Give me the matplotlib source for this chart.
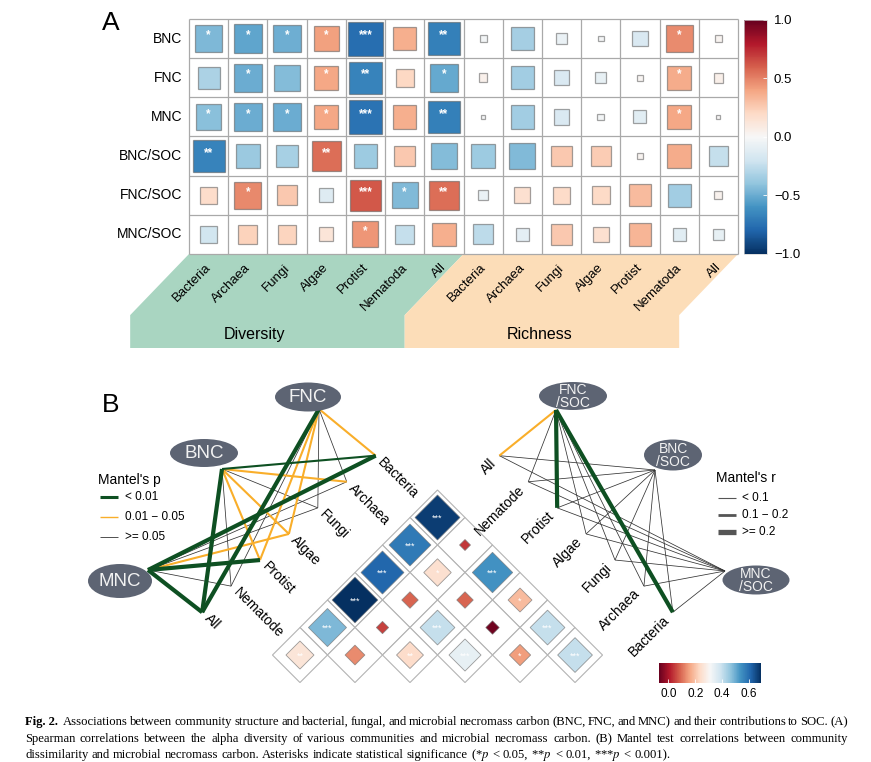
import numpy as np
import matplotlib
matplotlib.use("Agg")
import matplotlib.pyplot as plt
from matplotlib.patches import Rectangle, Polygon, Ellipse
from matplotlib.colors import Normalize
from matplotlib.cm import ScalarMappable

plt.rcParams['font.family'] = ['Liberation Sans', 'DejaVu Sans']
plt.rcParams['mathtext.fontset'] = 'stix'

# ---------------- Panel A data ----------------
rows_A = ["BNC", "FNC", "MNC", "BNC/SOC", "FNC/SOC", "MNC/SOC"]
taxa_A = ["Bacteria", "Archaea", "Fungi", "Algae", "Protist", "Nematoda", "All"]
blocks_A = ["Diversity", "Richness"]
corr_div = [
    [-0.45, -0.53, -0.49, 0.41, -0.76, 0.36, -0.68],
    [-0.32, -0.50, -0.43, 0.39, -0.67, 0.21, -0.51],
    [-0.42, -0.50, -0.50, 0.39, -0.74, 0.36, -0.68],
    [-0.67, -0.37, -0.33, 0.56, -0.36, 0.27, -0.43],
    [0.18, 0.48, 0.27, -0.13, 0.62, -0.44, 0.56],
    [-0.19, 0.23, 0.22, 0.13, 0.44, -0.24, 0.36],
]
corr_rich = [
    [-0.03, -0.34, -0.07, -0.02, -0.15, 0.47, 0.03],
    [0.05, -0.35, -0.15, -0.08, 0.02, 0.37, 0.06],
    [-0.01, -0.35, -0.15, -0.03, -0.11, 0.39, 0.01],
    [-0.36, -0.44, 0.27, 0.25, 0.03, 0.37, -0.24],
    [-0.07, 0.16, 0.19, 0.20, 0.32, -0.35, 0.04],
    [-0.26, -0.10, 0.27, 0.16, 0.34, -0.11, -0.08],
]
sig_div = [
    ["*", "*", "*", "*", "***", "", "**"],
    ["", "*", "", "*", "**", "", "*"],
    ["*", "*", "*", "*", "***", "", "**"],
    ["**", "", "", "**", "", "", ""],
    ["", "*", "", "", "***", "*", "**"],
    ["", "", "", "", "*", "", ""],
]
sig_rich = [
    ["", "", "", "", "", "*", ""],
    ["", "", "", "", "", "*", ""],
    ["", "", "", "", "", "*", ""],
    ["", "", "", "", "", "", ""],
    ["", "", "", "", "", "", ""],
    ["", "", "", "", "", "", ""],
]
cbarA_ticks = [1.0, 0.5, 0.0, -0.5, -1.0]

# ---------------- Panel B data ----------------
taxa_B = ["Bacteria", "Archaea", "Fungi", "Algae", "Protist", "Nematode", "All"]
p_levels = ["< 0.01", "0.01 \u2212 0.05", ">= 0.05"]
r_levels = ["< 0.1", "0.1 \u2212 0.2", ">= 0.2"]
# index into p_levels / r_levels, per taxon (taxa_B order)
mantel_p = {
    "BNC":     [0, 1, 2, 1, 1, 2, 0],
    "FNC":     [1, 2, 2, 1, 1, 2, 0],
    "MNC":     [0, 2, 2, 1, 0, 2, 0],
    "FNC/SOC": [0, 2, 2, 2, 0, 2, 1],
    "BNC/SOC": [2, 2, 2, 2, 2, 2, 2],
    "MNC/SOC": [2, 2, 2, 2, 2, 2, 2],
}
mantel_r = {
    "BNC":     [1, 1, 0, 1, 1, 0, 2],
    "FNC":     [1, 0, 0, 1, 1, 0, 2],
    "MNC":     [2, 0, 0, 1, 2, 0, 2],
    "FNC/SOC": [2, 0, 0, 0, 2, 0, 1],
    "BNC/SOC": [0, 0, 0, 0, 0, 0, 0],
    "MNC/SOC": [0, 0, 0, 0, 0, 0, 0],
}
tri_pairs = [
    ("Bacteria", "All", 0.67, "***"), ("Archaea", "All", 0.58, "***"),
    ("Fungi", "All", 0.61, "***"), ("Algae", "All", 0.69, "***"),
    ("Protist", "All", 0.48, "***"), ("Nematode", "All", 0.26, "**"),
    ("Bacteria", "Nematode", 0.04, ""), ("Archaea", "Nematode", 0.25, "*"),
    ("Fungi", "Nematode", 0.09, ""), ("Algae", "Nematode", 0.05, ""),
    ("Protist", "Nematode", 0.13, ""),
    ("Bacteria", "Protist", 0.54, "***"), ("Archaea", "Protist", 0.09, ""),
    ("Fungi", "Protist", 0.40, "***"), ("Algae", "Protist", 0.24, "**"),
    ("Bacteria", "Algae", 0.19, "*"), ("Archaea", "Algae", -0.06, ""),
    ("Fungi", "Algae", 0.34, "***"),
    ("Bacteria", "Fungi", 0.40, "***"), ("Archaea", "Fungi", 0.15, "*"),
    ("Bacteria", "Archaea", 0.40, "***"),
]
cbarB_ticks = [0.0, 0.2, 0.4, 0.6]

caption_lines = [
    "Associations between community structure and bacterial, fungal, and microbial necromass carbon (BNC, FNC, and MNC) and their contributions to SOC. (A)",
    "Spearman correlations between the alpha diversity of various communities and microbial necromass carbon. (B) Mantel test correlations between community",
    "dissimilarity and microbial necromass carbon. Asterisks indicate statistical significance (*$p$ < 0.05, **$p$ < 0.01, ***$p$ < 0.001).",
]

# ---------------- figure ----------------
W, H = 871, 762
fig = plt.figure(figsize=(W / 100, H / 100), dpi=100)


def fbox(x0, y0, x1, y1):
    return [x0 / W, 1 - y1 / H, (x1 - x0) / W, (y1 - y0) / H]


# ===== Panel A =====
axA = fig.add_axes(fbox(189, 19, 738, 254))
axA.set_xlim(0, 14)
axA.set_ylim(6, 0)
axA.axis('off')
cmapA = plt.get_cmap('RdBu_r')
normA = Normalize(-1, 1)
nA = len(taxa_A)
for i in range(len(rows_A)):
    vals = corr_div[i] + corr_rich[i]
    sigs = sig_div[i] + sig_rich[i]
    for j, r in enumerate(vals):
        s = np.sqrt(abs(r))
        axA.add_patch(Rectangle((j + 0.5 - s / 2, i + 0.5 - s / 2), s, s,
                                facecolor=cmapA(normA(r)),
                                edgecolor=(0.35, 0.35, 0.35, 0.55), lw=0.9, zorder=2))
        if sigs[j]:
            axA.text(j + 0.5, i + 0.42, sigs[j], color='white', fontsize=8.5,
                     ha='center', va='center', zorder=3, fontweight='bold')
    axA.text(-0.18, i + 0.5, rows_A[i], ha='right', va='center', fontsize=10)
axA.vlines(np.arange(2 * nA + 1), 0, 6, color='#a9a9a9', lw=0.9, clip_on=False, zorder=1)
axA.hlines(np.arange(len(rows_A) + 1), 0, 2 * nA, color='#a9a9a9', lw=0.9, clip_on=False, zorder=1)

# bottom labels / bands
dx, dy1, dy2 = 1.5, 1.56, 2.4
band_cols = ['#A9D5C1', '#FCDDB8']
for b, name in enumerate(blocks_A):
    x0 = b * nA
    x1 = x0 + nA
    poly = [(x0, 6), (x1, 6), (x1 - dx, 6 + dy1), (x1 - dx, 6 + dy2),
            (x0 - dx, 6 + dy2), (x0 - dx, 6 + dy1)]
    axA.add_patch(Polygon(poly, closed=True, facecolor=band_cols[b], edgecolor='none',
                          clip_on=False, zorder=0))
    axA.text(x0 + 1.68 + (0.27 if b == 1 else 0), 6 + 2.05, name, ha='center', va='center',
             fontsize=11.5)
    for j, t in enumerate(taxa_A):
        axA.text(x0 + j + 0.52, 6.3, t, rotation=45, ha='right', va='center',
                 rotation_mode='anchor', fontsize=9.5)

caxA = fig.add_axes(fbox(744, 20, 767, 254))
cbA = fig.colorbar(ScalarMappable(norm=normA, cmap=cmapA), cax=caxA, ticks=cbarA_ticks)
cbA.ax.set_yticklabels([f"{t:.1f}".replace('-', '\u2212') for t in cbarA_ticks])
cbA.ax.tick_params(labelsize=9.5, length=3, color='white', direction='in', pad=5, width=0.6)
cbA.outline.set_edgecolor('#d0d0d0')
cbA.outline.set_linewidth(0.5)

fig.text(111 / W, 1 - 23 / H, "A", fontsize=19, ha='center', va='center')
fig.text(111 / W, 1 - 405 / H, "B", fontsize=19, ha='center', va='center')

# ===== Panel B =====
axB = fig.add_axes([0, 0, 1, 1], zorder=-1)
axB.set_xlim(0, W)
axB.set_ylim(H, 0)
axB.axis('off')

side = 38.9
apex = np.array([437.5, 490.0])
dL = np.array([-1.0, 1.0]) / np.sqrt(2)
dR = np.array([1.0, 1.0]) / np.sqrt(2)
nL = np.array([-1.0, -1.0]) / np.sqrt(2)
nR = np.array([1.0, -1.0]) / np.sqrt(2)
K = len(taxa_B)


def tri_pt(u, v):
    return apex + u * side * dL + v * side * dR


cmapB = plt.get_cmap('RdBu')
normB = Normalize(-0.07, 0.69)
for t1, t2, r, sg in tri_pairs:
    i1, i2 = sorted([taxa_B.index(t1), taxa_B.index(t2)])
    a, b = i1, K - 1 - i2
    cell = [tri_pt(a, b), tri_pt(a + 1, b), tri_pt(a + 1, b + 1), tri_pt(a, b + 1)]
    axB.add_patch(Polygon(cell, closed=True, facecolor='white', edgecolor='#b3b3b3',
                          lw=0.8, zorder=1))
    h = np.sqrt(abs(r)) / 2
    cu, cv = a + 0.5, b + 0.5
    dia = [tri_pt(cu - h, cv - h), tri_pt(cu + h, cv - h), tri_pt(cu + h, cv + h),
           tri_pt(cu - h, cv + h)]
    axB.add_patch(Polygon(dia, closed=True, facecolor=cmapB(normB(r)),
                          edgecolor=(0.45, 0.45, 0.45, 0.7), lw=0.6, zorder=2))
    if sg:
        c = tri_pt(cu, cv)
        axB.text(c[0], c[1] + 1.0, sg, color='white', fontsize=6.5, ha='center',
                 va='center', zorder=3)

# label anchor points
left_pts, right_pts = {}, {}
for k in range(K):
    off = 68 + 2 * k
    pL = apex + (k + 0.5) * side * dL + off * nL
    pR = apex + (k + 0.5) * side * dR + off * nR
    left_pts[taxa_B[k]] = pL
    right_pts[taxa_B[K - 1 - k]] = pR
    q = pL - 6 * nL
    axB.text(q[0], q[1], taxa_B[k], rotation=-45, ha='left', va='center',
             rotation_mode='anchor', fontsize=10, zorder=4)
    q = pR - 8 * nR
    axB.text(q[0], q[1], taxa_B[K - 1 - k], rotation=45, ha='right', va='center',
             rotation_mode='anchor', fontsize=10, zorder=4)

# nodes: centre, width, height, edge origin, fontsize, label
nodes = {
    "BNC": ((204, 453), 68, 28, (222, 469), 13.5, "BNC"),
    "FNC": ((308, 397), 66, 29, (319, 409), 13.5, "FNC"),
    "MNC": ((120, 581), 64, 34, (148, 570), 13.5, "MNC"),
    "FNC/SOC": ((573, 396), 68, 28, (556, 410), 10, "FNC\n/SOC"),
    "BNC/SOC": ((673, 455), 58, 31, (655, 470), 10, "BNC\n/SOC"),
    "MNC/SOC": ((756, 580), 67, 29, (725, 571), 10, "MNC\n/SOC"),
}
p_colors = ['#0E5022', '#F9AE2A', '#333333']
r_widths = [0.55, 1.5, 3.0]
edges = []
for src, pc in mantel_p.items():
    for k, t in enumerate(taxa_B):
        edges.append((pc[k], mantel_r[src][k], src, t))
edges.sort(key=lambda e: (-e[0], e[1]))
for pc, rc, src, t in edges:
    o = nodes[src][3]
    tgt = right_pts[t] if "/" in src else left_pts[t]
    axB.plot([o[0], tgt[0]], [o[1], tgt[1]], color=p_colors[pc], lw=r_widths[rc],
             solid_capstyle='butt', zorder=3 + (2 - pc) * 0.1)
for name, (c, w, h, o, fs, lab) in nodes.items():
    axB.add_patch(Ellipse(c, w, h, facecolor='#5D6473', edgecolor='none', zorder=6))
    axB.text(c[0], c[1] + 0.5, lab, color='#F2F2F2', fontsize=fs, ha='center',
             va='center', zorder=7, linespacing=0.95)

# legends
axB.text(98, 480, "Mantel's p", fontsize=10, ha='left', va='center')
for i, lab in enumerate(p_levels):
    y = 497 + i * 20
    axB.plot([100, 118], [y, y], color=p_colors[i], lw=[2.2, 1.0, 0.6][i],
             solid_capstyle='butt')
    axB.text(125, y, lab, fontsize=8.5, ha='left', va='center')
axB.text(716, 478, "Mantel's r", fontsize=10, ha='left', va='center')
for i, lab in enumerate(r_levels):
    y = 498 + i * 17
    axB.plot([718, 736], [y, y], color='#555555', lw=[0.8, 2.0, 3.8][i],
             solid_capstyle='butt')
    axB.text(742, y, lab, fontsize=8.5, ha='left', va='center')

caxB = fig.add_axes(fbox(659, 663, 761, 683))
cbB = fig.colorbar(ScalarMappable(norm=normB, cmap=cmapB), cax=caxB,
                   orientation='horizontal', ticks=cbarB_ticks)
cbB.ax.set_xticklabels([f"{t:.1f}" for t in cbarB_ticks])
cbB.ax.tick_params(labelsize=8.5, length=3, color='white', direction='in', width=0.6)
cbB.outline.set_visible(False)

# ===== Caption =====
renderer = fig.canvas.get_renderer()
x_left, x_right = 25, 848
tmp = fig.text(0, 0, caption_lines[2], fontsize=10, family='Liberation Serif')
w3 = tmp.get_window_extent(renderer=renderer).width
tmp.remove()
tmp = fig.text(0, 0, "Fig. 2.   " + caption_lines[0], fontsize=10, family='Liberation Serif')
w1 = tmp.get_window_extent(renderer=renderer).width
tmp.remove()
capfs = min(10 * 672 / w3, 10 * (x_right - x_left) * 1.02 / w1)
baselines = [725, 742, 758]


def place_words(tokens, ybase, justify):
    objs, widths = [], []
    for s, wt in tokens:
        t = fig.text(0, 1 - ybase / H, s, fontsize=capfs, family='Liberation Serif',
                     fontweight=wt, va='baseline', ha='left')
        objs.append(t)
        widths.append(t.get_window_extent(renderer=renderer).width)
    nat = 0.25 * capfs * 100 / 72
    extra = [0] * len(tokens)
    if tokens[0][1] == 'bold':
        extra[0] = nat * 1.0
    gaps = len(tokens) - 1
    if justify:
        g = (x_right - x_left - sum(widths) - sum(extra)) / gaps
        g = max(g, 0.4 * nat)
    else:
        g = nat
    x = x_left
    for k, t in enumerate(objs):
        t.set_x(x / W)
        x += widths[k] + g + extra[k]


tok1 = [("Fig. 2.", 'bold')] + [(w, 'normal') for w in caption_lines[0].split()]
tok2 = [(w, 'normal') for w in caption_lines[1].split()]
tok3 = [(w, 'normal') for w in caption_lines[2].split()]
place_words(tok1, baselines[0], True)
place_words(tok2, baselines[1], True)
place_words(tok3, baselines[2], False)

fig.savefig("out.png", dpi=100)
